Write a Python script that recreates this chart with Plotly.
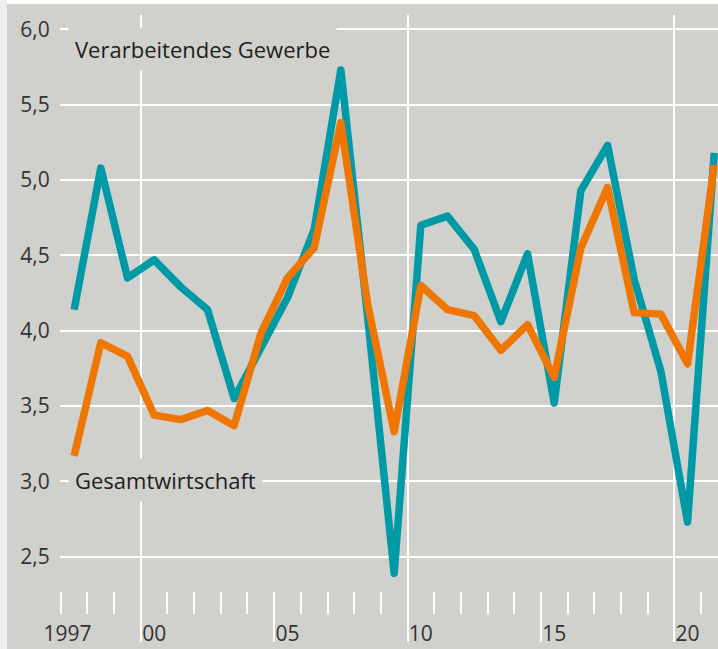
import plotly.graph_objects as go

# ---- data ----
years = list(range(1997, 2022))
verarbeitendes_gewerbe = [4.14, 5.08, 4.35, 4.47, 4.29, 4.14, 3.55, 3.88, 4.22, 4.67,
                          5.73, 4.10, 2.39, 4.70, 4.76, 4.54, 4.06, 4.51, 3.52, 4.93,
                          5.23, 4.34, 3.73, 2.73, 5.18]
gesamtwirtschaft = [3.17, 3.92, 3.83, 3.44, 3.41, 3.47, 3.37, 3.98, 4.35, 4.55,
                    5.38, 4.18, 3.33, 4.30, 4.14, 4.10, 3.87, 4.04, 3.69, 4.55,
                    4.95, 4.12, 4.11, 3.78, 5.10]
x_label_vals = [1997, 2000, 2005, 2010, 2015, 2020]
x_label_text = ["1997", "00", "05", "10", "15", "20"]
y_tick_vals = [2.5, 3.0, 3.5, 4.0, 4.5, 5.0, 5.5, 6.0]
y_tick_text = ["2,5", "3,0", "3,5", "4,0", "4,5", "5,0", "5,5", "6,0"]

year_bounds = [y - 0.5 for y in years]          # small ticks between years
decade_bounds = [1999.5, 2009.5, 2019.5]          # full-height grid lines
half_decade_bounds = [2004.5, 2014.5]             # longer ticks
# the wide "1997" label sits a little left of its year
x_label_pos = [v - 0.25 if i == 0 else v for i, v in enumerate(x_label_vals)]

TEAL = "#0099a6"
ORANGE = "#ef7600"
BG = "#d0d0cd"
FONT = "Open Sans"

W, H = 718, 649
ML, MR, MT, MB = 60, 0, 15, 7
PH = H - MT - MB
PW = W - ML - MR

x0 = 1996.47
x_range = [x0, x0 + PW / 26.67]
y_top = 6.0 + (29.3 - MT) / 150.7
y_bot = 6.0 - (H - MB - 29.3) / 150.7

fig = go.Figure()
fig.add_trace(go.Scatter(x=years, y=verarbeitendes_gewerbe, mode="lines",
                         line=dict(color=TEAL, width=7.5), xaxis="x", yaxis="y",
                         hoverinfo="skip", showlegend=False))
fig.add_trace(go.Scatter(x=years, y=gesamtwirtschaft, mode="lines",
                         line=dict(color=ORANGE, width=7.5), xaxis="x2", yaxis="y",
                         hoverinfo="skip", showlegend=False))

fig.update_layout(
    width=W, height=H,
    margin=dict(l=ML, r=MR, t=MT, b=MB, pad=0, autoexpand=False),
    paper_bgcolor=BG, plot_bgcolor=BG,
    font=dict(family=FONT, size=21, color="#333333"),
    showlegend=False,
    xaxis=dict(
        range=x_range, fixedrange=True, automargin=False,
        tickmode="array", tickvals=decade_bounds,
        ticks="", showticklabels=False,
        showgrid=True, gridcolor="white", gridwidth=2,
        zeroline=False, showline=False,
        minor=dict(tickmode="array", tickvals=half_decade_bounds + decade_bounds,
                   ticks="inside", ticklen=50, tickwidth=2, tickcolor="white",
                   showgrid=False),
    ),
    xaxis2=dict(
        range=x_range, fixedrange=True, overlaying="x", anchor="free",
        automargin=False,
        position=(H - MB - 614) / PH,
        tickmode="array", tickvals=x_label_pos, ticktext=x_label_text,
        ticks="outside", ticklen=1, tickcolor="rgba(0,0,0,0)",
        tickfont=dict(family=FONT, size=21, color="#333333"),
        showgrid=False, zeroline=False, showline=False,
        minor=dict(tickmode="array", tickvals=year_bounds, ticks="inside",
                   ticklen=22, tickwidth=2, tickcolor="white", showgrid=False),
    ),
    yaxis=dict(
        range=[y_bot, y_top], fixedrange=True, automargin=False,
        tickmode="array", tickvals=y_tick_vals, ticktext=y_tick_text,
        ticks="outside", ticklen=5, tickcolor="rgba(0,0,0,0)",
        tickfont=dict(family=FONT, size=21, color="#333333"),
        showgrid=True, gridcolor="white", gridwidth=2,
        zeroline=False, showline=False,
    ),
    shapes=[
        # light strip on the left edge
        dict(type="rect", xref="paper", yref="paper",
             x0=-ML / PW, x1=(7 - ML) / PW, y0=-MB / PH, y1=1 + MT / PH,
             fillcolor="#efefef", line=dict(width=0), layer="above"),
        # white strip at the top
        dict(type="rect", xref="paper", yref="paper",
             x0=(7 - ML) / PW, x1=1, y0=1 + (MT - 4) / PH, y1=1 + MT / PH,
             fillcolor="white", line=dict(width=0), layer="above"),
    ],
    annotations=[
        dict(text="Verarbeitendes Gewerbe", x=1996.755, y=5.867, xref="x", yref="y",
             xanchor="left", yanchor="middle", showarrow=False,
             font=dict(family=FONT, size=22, color="#1e1e1e"),
             bgcolor=BG, borderpad=6),
        dict(text="Gesamtwirtschaft", x=1996.755, y=3.01, xref="x", yref="y",
             xanchor="left", yanchor="middle", showarrow=False,
             font=dict(family=FONT, size=22, color="#1e1e1e"),
             bgcolor=BG, borderpad=6),
    ],
)

post = (
    "var s=document.createElement('style');"
    "s.textContent='html,body{margin:0!important;padding:0!important;overflow:hidden;}"
    " .scatterlayer .js-line{stroke-linejoin:round!important;}';"
    "document.head.appendChild(s);"
)

fig.write_html("out.html", post_script=post,
               config={"displayModeBar": False, "staticPlot": True})
